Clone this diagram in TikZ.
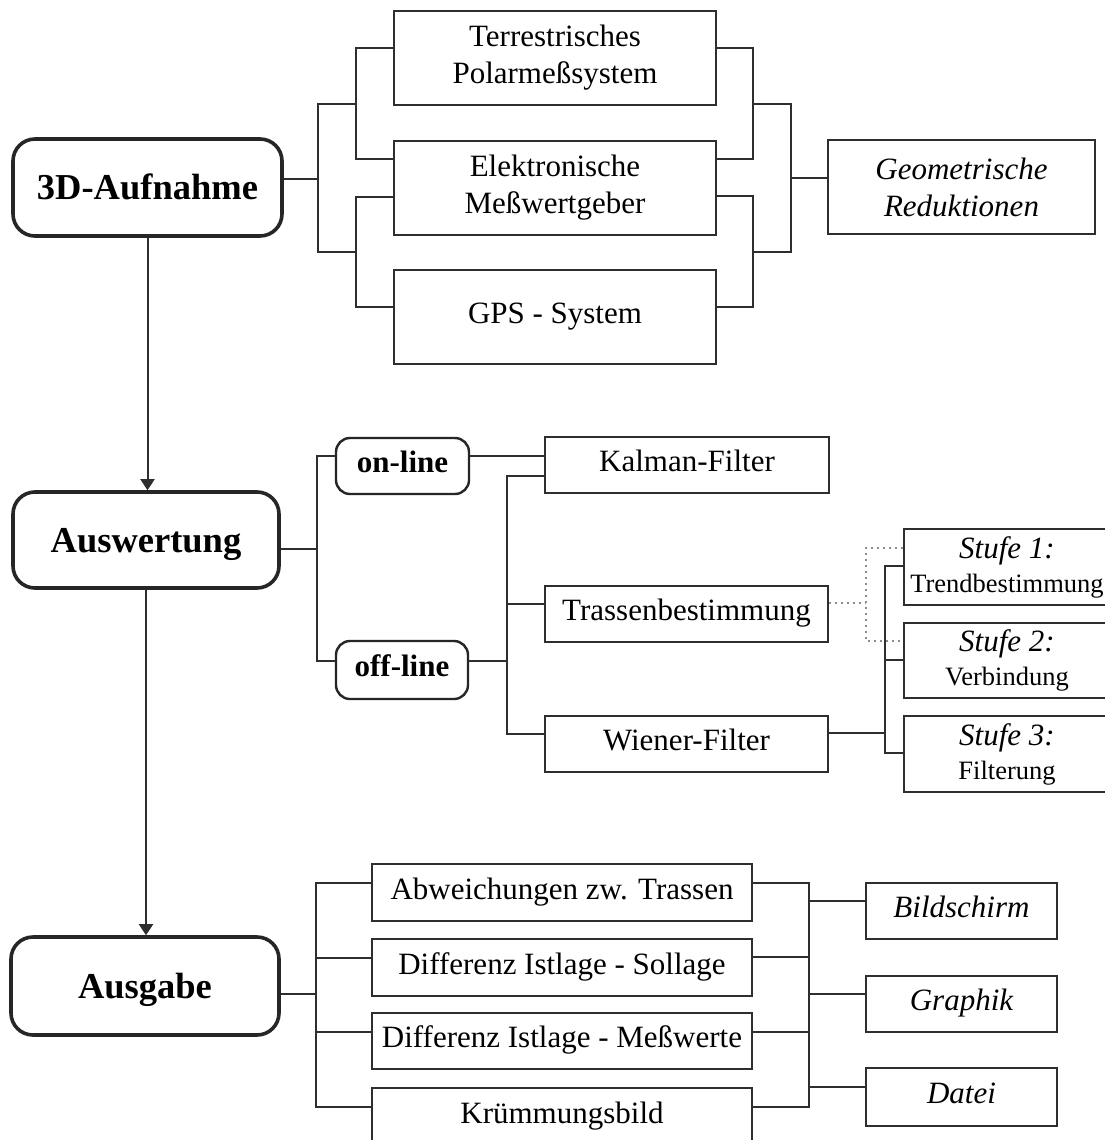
\documentclass[tikz,border=0pt]{standalone}
\usepackage{fontspec}
\setmainfont{Liberation Serif}
\usetikzlibrary{arrows.meta}
\begin{document}
\begin{tikzpicture}[x=1pt,y=-1pt,
  ln/.style={line width=1.8pt, draw=black!82},
  dotline/.style={line width=1.6pt, draw=black!45, dash pattern=on 1.6pt off 4.4pt},
  base/.style={draw=black!82, line width=2pt, inner sep=0pt, align=center, font=\fontsize{31}{37}\selectfont},
  one/.style={base, text height=21.7pt, text depth=7.75pt},
  itone/.style={one, font=\itshape\fontsize{31}{37}\selectfont},
  mainbox/.style={draw=black!85, line width=3.6pt, rounded corners=22pt, inner sep=0pt,
     font=\bfseries\fontsize{36.5}{43}\selectfont, text height=24pt, text depth=0pt},
  subbox/.style={draw=black!85, line width=2.4pt, rounded corners=14pt, inner sep=0pt,
     font=\bfseries\fontsize{31}{37}\selectfont, text height=21.7pt, text depth=7.75pt},
  stufebox/.style={base},
  arr/.style={line width=2pt, draw=black!82, -{Triangle[width=14pt,length=11pt]}}
]
\useasboundingbox (0,0) rectangle (1105,1140);
\fill[white] (0,0) rectangle (1105,1140);
\clip (0,0) rectangle (1105,1140);

% ---------- main boxes ----------
\node[mainbox, minimum width=269pt, minimum height=97pt] (aufn) at (147.5,187.5) {3D-Aufnahme};
\node[mainbox, minimum width=266pt, minimum height=96pt] (ausw) at (146,540) {Auswertung};
\node[mainbox, minimum width=268pt, minimum height=98pt] (ausg) at (145,986) {Ausgabe};

% ---------- top section ----------
\node[base, minimum width=322pt, minimum height=94pt] (terr) at (555,58) {Terrestrisches\\Polarmeßsystem};
\node[base, minimum width=322pt, minimum height=94pt] (elek) at (555,188) {Elektronische\\Meßwertgeber};
\node[one, minimum width=322pt, minimum height=94pt] (gps) at (555,317) {GPS - System};
\node[base, font=\itshape\fontsize{31}{37}\selectfont, minimum width=267pt, minimum height=94pt] (geo) at (961.5,187) {Geometrische\\Reduktionen};

\draw[ln] (aufn.east |- 0,179) -- (318,179);
\draw[ln] (356,104) -| (318,179) |- (356,252);
\draw[ln] (terr.west |- 0,48) -| (356,104) |- (elek.west |- 0,159);
\draw[ln] (elek.west |- 0,197) -| (356,252) |- (gps.west |- 0,307);
\draw[ln] (terr.east |- 0,48) -| (753,104) |- (elek.east |- 0,159);
\draw[ln] (elek.east |- 0,196) -| (753,252) |- (gps.east |- 0,307);
\draw[ln] (753,104) -| (791,178) |- (753,252);
\draw[ln] (791,178) -- (geo.west |- 0,178);

% ---------- middle section ----------
\node[subbox, minimum width=133pt, minimum height=56pt] (online) at (402.5,466) {on-line};
\node[subbox, minimum width=132pt, minimum height=58pt] (offline) at (402,670) {off-line};
\node[one, minimum width=284pt, minimum height=56pt] (kalman) at (687,465) {Kalman-Filter};
\node[one, minimum width=283pt, minimum height=56pt] (trassen) at (686.5,614) {Trassenbestimmung};
\node[one, minimum width=283pt, minimum height=56pt] (wiener) at (686.5,744) {Wiener-Filter};
\node[stufebox, minimum width=206pt, minimum height=76pt] (stufe1) at (1007,567)
  {\textit{Stufe 1:}\\[-3pt]{\fontsize{26.5}{31}\selectfont Trendbestimmung}};
\node[stufebox, minimum width=206pt, minimum height=75pt] (stufe2) at (1007,660.5)
  {\textit{Stufe 2:}\\[-3pt]{\fontsize{26.5}{31}\selectfont Verbindung}};
\node[stufebox, minimum width=206pt, minimum height=76pt] (stufe3) at (1007,754)
  {\textit{Stufe 3:}\\[-3pt]{\fontsize{26.5}{31}\selectfont Filterung}};

\draw[ln] (ausw.east |- 0,549) -- (317,549);
\draw[ln] (online.west |- 0,456) -| (317,549) |- (offline.west |- 0,661);
\draw[ln] (online.east |- 0,456) -- (kalman.west |- 0,456);
\draw[ln] (offline.east |- 0,661) -- (507,661);
\draw[ln] (kalman.west |- 0,476) -| (507,734) -- (wiener.west |- 0,734);
\draw[ln] (507,604) -- (trassen.west |- 0,604);
\draw[dotline] (trassen.east |- 0,603) -- (866,603);
\draw[dotline] (stufe1.west |- 0,548) -| (866,641) -- (stufe2.west |- 0,641);
\draw[ln] (wiener.east |- 0,733) -- (885,733);
\draw[ln] (stufe1.west |- 0,566) -| (885,753) -- (stufe3.west |- 0,753);
\draw[ln] (885,660) -- (stufe2.west |- 0,660);

% ---------- bottom section ----------
\node[one, minimum width=380pt, minimum height=57pt] (abw) at (562,892.5) {Abweichungen zw. Trassen};
\node[one, minimum width=380pt, minimum height=57pt] (diff1) at (562,967.5) {Differenz Istlage - Sollage};
\node[one, minimum width=380pt, minimum height=56pt] (diff2) at (562,1041) {Differenz Istlage - Meßwerte};
\node[one, minimum width=380pt, minimum height=57pt] (kruem) at (562,1116.5) {Krümmungsbild};
\node[itone, minimum width=191pt, minimum height=56pt] (bild) at (961.5,911) {Bildschirm};
\node[itone, minimum width=191pt, minimum height=56pt] (graph) at (961.5,1004) {Graphik};
\node[itone, minimum width=191pt, minimum height=58pt] (datei) at (961.5,1097) {Datei};

\draw[ln] (ausg.east |- 0,994) -- (316,994);
\draw[ln] (abw.west |- 0,883) -| (316,1107) -- (kruem.west |- 0,1107);
\draw[ln] (316,958) -- (diff1.west |- 0,958);
\draw[ln] (316,1032) -- (diff2.west |- 0,1032);
\draw[ln] (abw.east |- 0,883) -| (809,1107) -- (kruem.east |- 0,1107);
\draw[ln] (diff1.east |- 0,957) -- (809,957);
\draw[ln] (diff2.east |- 0,1032) -- (809,1032);
\draw[ln] (809,901) -- (bild.west |- 0,901);
\draw[ln] (809,994) -- (graph.west |- 0,994);
\draw[ln] (809,1087) -- (datei.west |- 0,1087);

% ---------- arrows ----------
\draw[arr] (aufn.south) -- (aufn.south |- ausw.north);
\draw[arr] (ausw.south) -- (ausw.south |- ausg.north);
\end{tikzpicture}
\end{document}
